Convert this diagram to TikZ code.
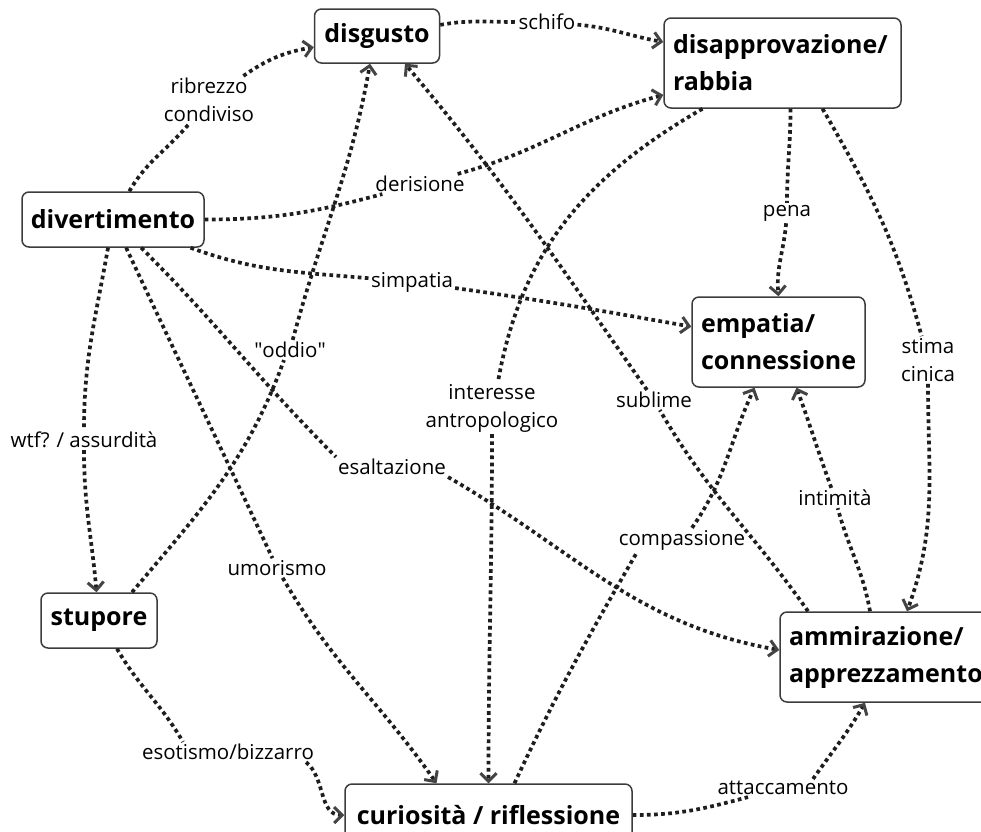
\documentclass[tikz,border=0pt]{standalone}
\usepackage{fontspec}
\setmainfont{Open Sans}
\usepackage{tikz}
\usetikzlibrary{arrows.meta}
\usepackage{xcolor}
\definecolor{linkgray}{HTML}{1E1E1E}
\definecolor{tipgray}{HTML}{444444}
\definecolor{boxgray}{HTML}{3C3C3C}

\begin{document}
\begin{tikzpicture}[x=1pt, y=1pt,
  emo/.style={draw=boxgray, line width=1.5pt, rounded corners=7pt, fill=white, inner sep=0pt,
    font=\fontsize{25}{37}\selectfont\bfseries},
  lbl/.style={fill=white, inner sep=2pt, align=center, font=\fontsize{20.5}{28}\selectfont},
  rel/.style={draw=linkgray, line width=3.7pt, dash pattern=on 3.7pt off 3.4pt},
  tip/.style={-{Straight Barb[length=8pt, width=16pt, line width=3pt, color=tipgray]}}]
  \fill[white] (0,0) rectangle (981,-831);
  \useasboundingbox (0,0) rectangle (981,-831);
  % emotions
  \node[emo, minimum width=125pt, minimum height=54pt] (disgusto) at (377,-36) {disgusto};
  \node[emo, minimum height=90pt, text width=219pt, align=left, inner xsep=9pt] (disappr) at (782.5,-63) {disapprovazione/\\rabbia};
  \node[emo, minimum width=182pt, minimum height=55pt] (divert) at (113,-219.5) {divertimento};
  \node[emo, minimum height=90pt, text width=155pt, align=left, inner xsep=9pt] (empatia) at (778.5,-342) {empatia/\\connessione};
  \node[emo, minimum width=116pt, minimum height=55pt] (stupore) at (99,-620.5) {stupore};
  \node[emo, minimum height=90pt, text width=200pt, align=left, inner xsep=9pt] (ammiraz) at (889,-657) {ammirazione/\\apprezzamento};
  \node[emo, minimum width=287pt, minimum height=62pt] (curios) at (488.5,-815) {curiosità / riflessione};
  % labels
  \node[lbl] (ribrezzo) at (209,-100) {ribrezzo\\condiviso};
  \node[lbl] (schifo) at (547,-22) {schifo};
  \node[lbl] (derisione) at (420,-184) {derisione};
  \node[lbl] (simpatia) at (412,-282) {simpatia};
  \node[lbl] (wtf) at (84,-440) {wtf? / assurdità};
  \node[lbl] (oddio) at (290,-350) {\textquotedbl oddio\textquotedbl};
  \node[lbl] (interesse) at (492,-408) {interesse\\antropologico};
  \node[lbl] (sublime) at (654,-400) {sublime};
  \node[lbl] (pena) at (787,-213) {pena};
  \node[lbl] (stima) at (928,-360) {stima\\cinica};
  \node[lbl] (intimita) at (835,-498) {intimità};
  \node[lbl] (esalt) at (392,-467) {esaltazione};
  \node[lbl] (compass) at (682,-540) {compassione};
  \node[lbl] (umor) at (277,-568) {umorismo};
  \node[lbl] (esot) at (228,-752) {esotismo/bizzarro};
  \node[lbl] (attacc) at (783,-788) {attaccamento};
  % links
  \draw[rel] (divert) to[out=60, in=-130] (ribrezzo);
  \draw[rel, tip] (ribrezzo) to[out=35, in=190] (disgusto);
  \draw[rel] (disgusto) to[out=10, in=180] (schifo);
  \draw[rel, tip] (schifo) to[out=-5, in=170] (disappr);
  \draw[rel] (divert) to[out=0, in=195] (derisione);
  \draw[rel, tip] (derisione) to[out=15, in=195] (disappr);
  \draw[rel] (divert) to[out=-20, in=175] (simpatia);
  \draw[rel, tip] (simpatia) to[out=-8, in=170] (empatia);
  \draw[rel] (divert) to[out=-100, in=90] (wtf);
  \draw[rel, tip] (wtf) to[out=-90, in=95] (stupore);
  \draw[rel] (divert) to[out=-65, in=115] (umor);
  \draw[rel, tip] (umor) to[out=-60, in=125] ([xshift=-52pt]curios.north);
  \draw[rel] (divert) to[out=-45, in=135] (esalt.north west);
  \draw[rel, tip] (esalt.south east) to[out=-30, in=170] ([yshift=7pt]ammiraz.west);
  \draw[rel] ([xshift=33pt]stupore.north) to[out=50, in=-110] ([xshift=-6pt]oddio.south);
  \draw[rel, tip] (oddio) to[out=75, in=-100] ([xshift=-7pt]disgusto.south);
  \draw[rel] ([xshift=18pt]stupore.south) to[out=-60, in=120] ([xshift=-45pt]esot.north);
  \draw[rel, tip] ([xshift=-10pt]esot.south east) to[out=-40, in=180] (curios);
  \draw[rel] ([xshift=-80pt]disappr.south) to[out=-150, in=80] ([xshift=6pt]interesse.north);
  \draw[rel, tip] (interesse) to[out=-90, in=90] (curios.north);
  \draw[rel] ([xshift=8pt]disappr.south) to[out=-90, in=90] (pena);
  \draw[rel, tip] (pena) to[out=-95, in=95] (empatia.north);
  \draw[rel] ([xshift=40pt]disappr.south) to[out=-60, in=105] (stima);
  \draw[rel, tip] (stima) to[out=-90, in=70] ([xshift=18pt]ammiraz.north);
  \draw[rel] ([xshift=-81pt]ammiraz.north) to[out=125, in=-60] (sublime);
  \draw[rel, tip] (sublime) to[out=125, in=-50] ([xshift=28pt]disgusto.south);
  \draw[rel] ([xshift=-19pt]ammiraz.north) to[out=100, in=-75] (intimita);
  \draw[rel, tip] (intimita) to[out=110, in=-70] ([xshift=18pt]empatia.south);
  \draw[rel] ([xshift=26pt]curios.north) to[out=65, in=-120] ([xshift=-45pt]compass.south);
  \draw[rel, tip] ([xshift=10pt]compass.north) to[out=55, in=-115] ([xshift=-24pt]empatia.south);
  \draw[rel] (curios) to[out=0, in=-165] ([xshift=-35pt]attacc.south);
  \draw[rel, tip] ([xshift=30pt]attacc.north) to[out=55, in=-120] ([xshift=-24pt]ammiraz.south);
\end{tikzpicture}
\end{document}
